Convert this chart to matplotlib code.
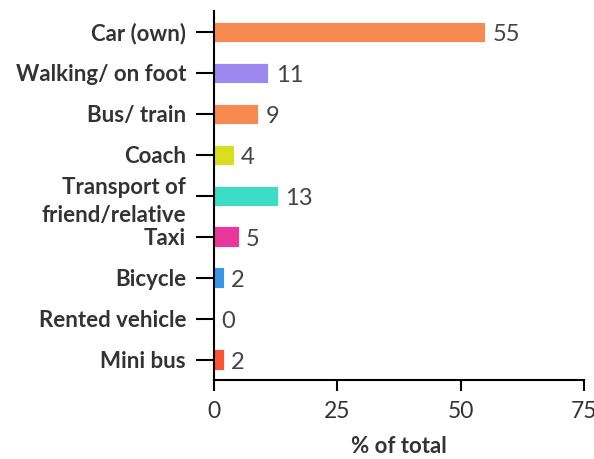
import matplotlib.pyplot as plt

# data
categories = ["Car (own)", "Walking/ on foot", "Bus/ train", "Coach",
              "Transport of\nfriend/relative", "Taxi", "Bicycle",
              "Rented vehicle", "Mini bus"]
values = [55, 11, 9, 4, 13, 5, 2, 0, 2]
colors = ["#F78A50", "#9D88F0", "#F78A50", "#D8DF20", "#3DDCC4",
          "#E8399A", "#3A97E8", "#3A97E8", "#FA5530"]
xticks = [0, 25, 50, 75]

plt.rcParams['font.family'] = ['Lato', 'DejaVu Sans']

fig = plt.figure(figsize=(5.94, 4.59), dpi=100)
ax = fig.add_axes([0.360, 0.172, 0.623, 0.803])

pos = list(range(len(categories)))
ax.barh(pos, values, height=0.5, color=colors, edgecolor="white", linewidth=0.6)

for p, v in zip(pos, values):
    ax.text(v + 1.5, p + 0.07, str(v), va="center", ha="left", fontsize=17,
            color="#444444")

ax.set_ylim(len(categories) - 0.5, -0.5)
ax.set_xlim(0, 75)
ax.set_xticks(xticks)
ax.set_yticks(pos)
ax.set_yticklabels(categories, fontsize=16, fontweight="bold", color="#333333",
                   linespacing=1.45)
ax.tick_params(axis="x", labelsize=16.5, labelcolor="#333333", length=8, width=1.5,
               pad=7)
ax.tick_params(axis="y", length=13, width=1.5, pad=7)

for s in ["top", "right"]:
    ax.spines[s].set_visible(False)
for s in ["left", "bottom"]:
    ax.spines[s].set_linewidth(1.5)

ax.set_xlabel("% of total", fontsize=16, fontweight="bold", color="#333333",
              labelpad=10)

fig.savefig("out.png", dpi=100)
